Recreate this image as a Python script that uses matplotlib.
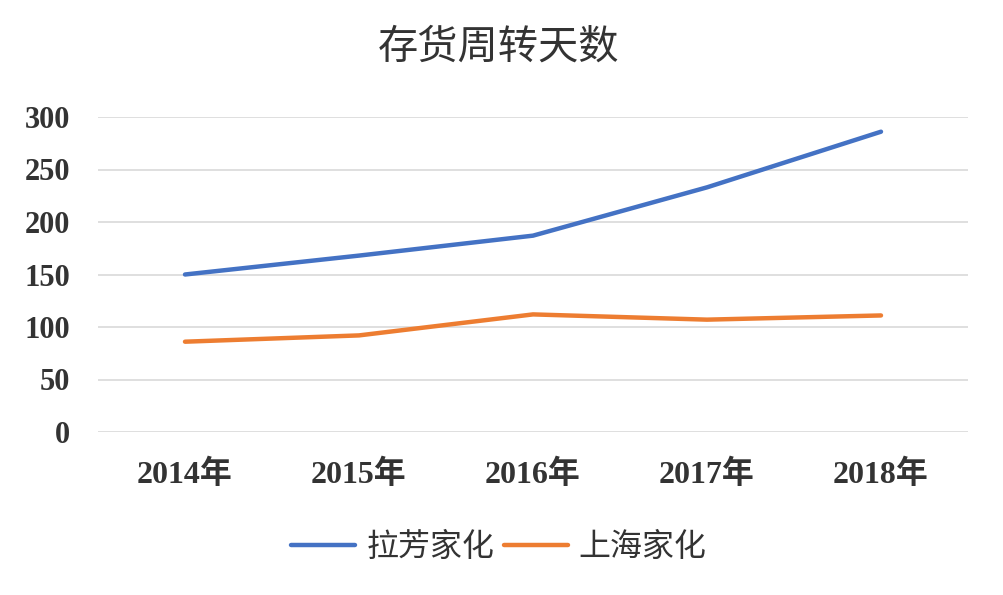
import matplotlib
matplotlib.use("Agg")
import matplotlib.pyplot as plt

categories = ["2014年", "2015年", "2016年", "2017年", "2018年"]
lafang = [150, 168, 187, 233, 286]
shanghai = [86, 92, 112, 107, 111]
yticks = [0, 50, 100, 150, 200, 250, 300]
title = "存货周转天数"
series_names = ["拉芳家化", "上海家化"]

FONTS = ["Liberation Serif", "Noto Sans CJK SC", "DejaVu Sans"]
CJK = ["Noto Sans CJK SC", "DejaVu Sans"]
TXT = "#333333"

fig = plt.figure(figsize=(10.04, 5.95), dpi=100)
ax = fig.add_axes([98/1004, 1-432/595, (968-98)/1004, (432-117)/595])

x = list(range(len(categories)))
l1, = ax.plot(x, lafang, color="#4472C4", lw=3.2, solid_capstyle="round")
l2, = ax.plot(x, shanghai, color="#ED7D31", lw=3.2, solid_capstyle="round")

ax.set_xlim(-0.5, len(categories) - 0.5)
ax.set_ylim(0, 300)
ax.set_yticks(yticks)
ax.set_yticklabels([str(v) for v in yticks], family=FONTS, fontsize=22, color=TXT,
                   weight="bold")
ax.set_xticks(x)
ax.set_xticklabels(categories, family=FONTS, fontsize=23, color=TXT, weight="bold")
ax.grid(axis="y", color="#D9D9D9", lw=1.2)
ax.set_axisbelow(True)
for s in ax.spines.values():
    s.set_visible(False)
ax.tick_params(axis="both", length=0)
ax.tick_params(axis="y", pad=20)
ax.tick_params(axis="x", pad=20)

fig.text(0.497, 1-47/595, title, ha="center", va="center", family=CJK,
         fontsize=29, color=TXT, weight="medium")

leg = fig.legend([l1, l2], series_names, loc="center", bbox_to_anchor=(0.497, 1-547/595),
                 ncol=2, frameon=False, prop={"family": CJK, "size": 23, "weight": "medium"},
                 handlelength=2.0, handletextpad=0.35, columnspacing=0.3)
for t in leg.get_texts():
    t.set_color(TXT)

fig.savefig("out.png", dpi=100, facecolor="white")
